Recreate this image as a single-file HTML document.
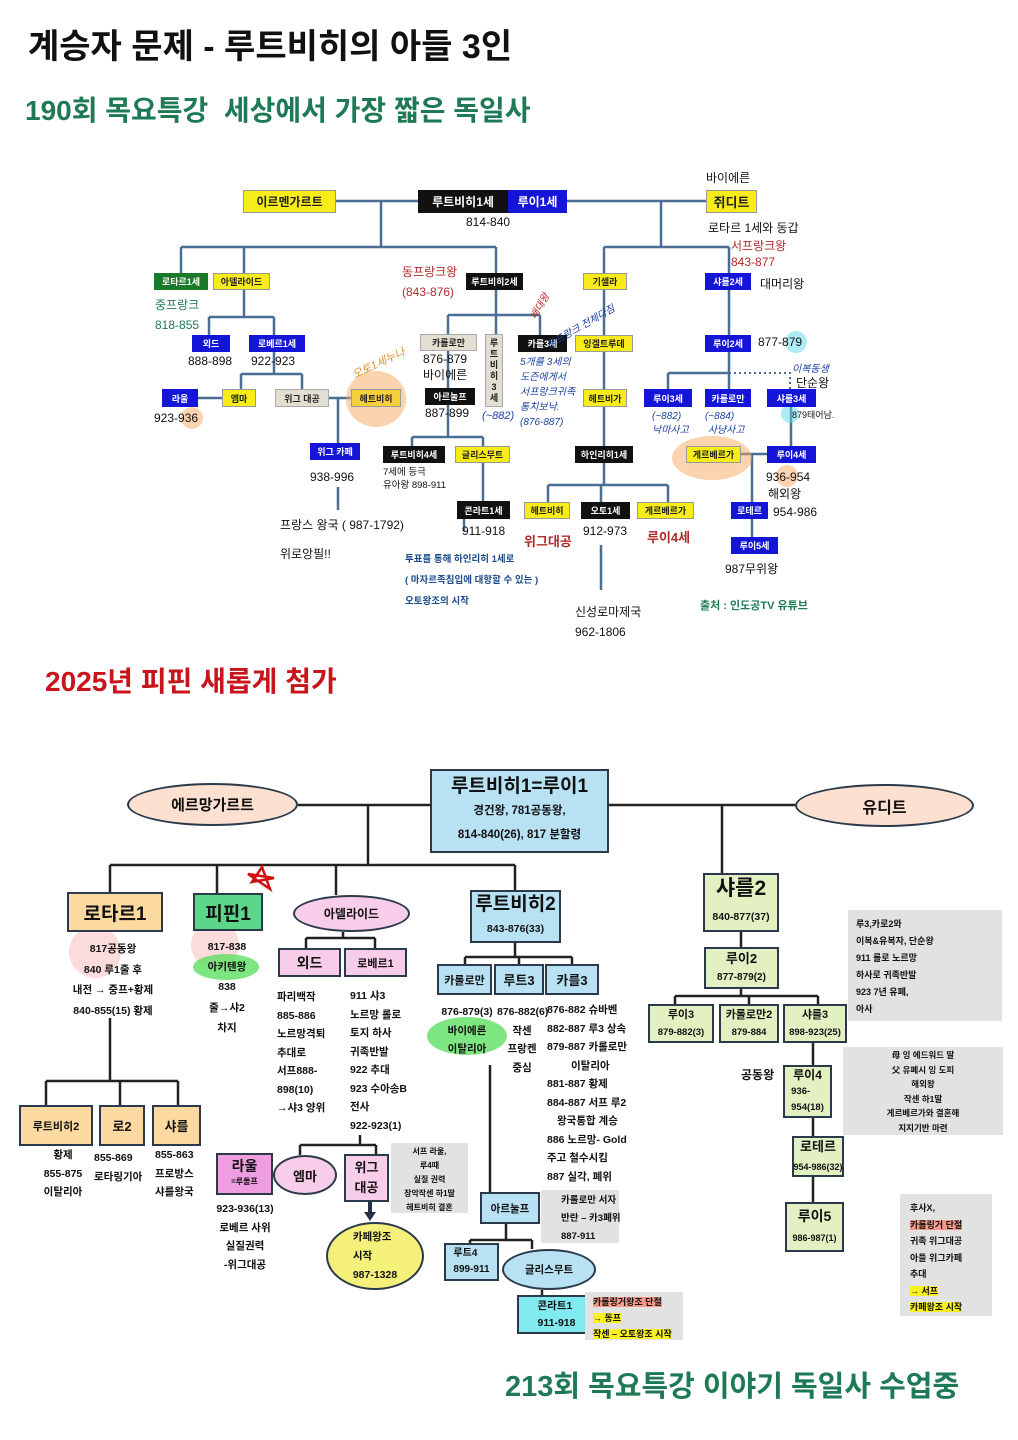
<!DOCTYPE html>
<html><head><meta charset="utf-8"><style>
*{margin:0;padding:0;box-sizing:border-box}
body{width:1018px;height:1440px;background:#fff;position:relative;overflow:hidden;font-family:"Liberation Sans","Noto Sans CJK KR",sans-serif;color:#111}
.a{position:absolute;white-space:nowrap}
.b{position:absolute;display:flex;align-items:center;justify-content:center;font-weight:bold;font-size:9px;white-space:nowrap}
.y{background:#f7ec1a;color:#222;border:1px solid #999}
.k{background:#111;color:#fff}
.u{background:#1515d8;color:#fff}
.g{background:#1a7a2a;color:#fff}
.e{background:#e2ded2;color:#222;border:1px solid #aaa}
.t{font-size:12px}
.r{color:#b02a2a}
.hw{position:absolute;color:#1a3fa0;font-style:italic;font-size:11px;white-space:nowrap}
.c{position:absolute;display:flex;flex-direction:column;align-items:center;justify-content:center;font-weight:bold;border:2px solid #2a3a4a;white-space:nowrap}
.n{position:absolute;font-size:10.5px;font-weight:bold;line-height:18.5px;white-space:nowrap}
.gr{position:absolute;background:#e2e2e2;font-size:9.5px;font-weight:bold;line-height:16px;white-space:nowrap}
</style></head><body>
<div class="a" style="left:28px;top:19px;font-size:34px;font-weight:bold">계승자 문제 - 루트비히의 아들 3인</div>
<div class="a" style="left:25px;top:89px;font-size:28px;font-weight:bold;color:#1e7a55">190회 목요특강&nbsp; 세상에서 가장 짧은 독일사</div>

<svg style="position:absolute;left:0;top:0" width="1018" height="1440">
<g stroke="#4a6e94" stroke-width="2.5" fill="none">
<path d="M336 201H418M567 201H706M381 201V247M181 247H496M181 247V273M244 247V273M496 247V273M661 201V247M604 247H729M604 247V273M729 247V273"/>
<path d="M244 290V317M209 317H274M209 317V335M274 317V374M241 374H302M241 374V389M302 374V389M198 398H222M329 398H351M338 398V443M338 487V510"/>
<path d="M496 290V334M448 315H540M448 315V334M540 315V335M448 351V388M448 405V437M412 437H483M412 437V446M483 437V446M483 463V501M464 519V531"/>
<path d="M604 290V446M604 463V485M548 485H668M548 485V502M601 485V502M668 485V502M601 545V590"/>
<path d="M729 290V335M729 352V389M668 373H729V373M668 373V389M741 454H767M752 454V502M752 519V537M791 407V446"/>
</g>
<path d="M729 373H790V389" stroke="#4a6e94" stroke-width="2" stroke-dasharray="2,3" fill="none"/>
<ellipse cx="376" cy="399" rx="30" ry="28" fill="#f6a860" opacity=".5"/>
<ellipse cx="712" cy="458" rx="40" ry="22" fill="#f6a860" opacity=".5"/>
<circle cx="192" cy="418" r="11" fill="#f6a860" opacity=".5"/>
<circle cx="787" cy="476" r="11" fill="#f6a860" opacity=".5"/>
<circle cx="796" cy="342" r="11" fill="#60d8e8" opacity=".5"/>
<circle cx="790" cy="414" r="9" fill="#60d8e8" opacity=".5"/>

<g stroke="#222" stroke-width="2.5" fill="none">
<path d="M298 805H430M609 805H795M368 805V865M110 865H515M110 865V892M217 865V893M336 865V895M515 865V890M722 805V873"/>
<path d="M343 932V938M306 938H375M306 938V948M375 938V948M360 1135V1145M300 1145H376M300 1145V1155M376 1145V1154"/>
<path d="M110 1018V1081M46 1081H178M46 1081V1105M120 1081V1105M178 1081V1105"/>
<path d="M515 943V957M465 957H572M465 957V964M519 957V964M572 957V964M490 1065V1192M506 1224V1240M470 1240H532M470 1240V1243M532 1240V1249M542 1290V1295"/>
<path d="M741 932V947M741 989V996M675 996H818M675 996V1004M749 996V1004M818 996V1004M813 1043V1065M813 1118V1136M813 1177V1202"/>
</g>
<path d="M370 1202V1214" stroke="#234" stroke-width="4"/><path d="M364 1212L370 1221L376 1212Z" fill="#234"/>
<circle cx="95" cy="952" r="26" fill="#f7b8b8" opacity=".5"/>
<circle cx="215" cy="945" r="24" fill="#f7b8b8" opacity=".5"/>
<ellipse cx="226" cy="967" rx="33" ry="13" fill="#5ee060" opacity=".8"/>
<ellipse cx="467" cy="1036" rx="40" ry="19" fill="#5ee060" opacity=".8"/>
<path d="M252 882L262 867L270 889L248 874L274 878Z" stroke="#d01010" stroke-width="2.5" fill="none"/>
</svg>

<!-- top boxes -->
<div class="b y t" style="left:243px;top:190px;width:93px;height:23px">이르멘가르트</div>
<div class="b k t" style="left:418px;top:190px;width:90px;height:23px">루트비히1세</div>
<div class="b u t" style="left:508px;top:190px;width:59px;height:23px">루이1세</div>
<div class="a" style="left:466px;top:215px;font-size:12px">814-840</div>
<div class="a" style="left:706px;top:169px;font-size:12px">바이에른</div>
<div class="b y t" style="left:706px;top:190px;width:51px;height:23px;font-size:13px">쥐디트</div>
<div class="a" style="left:708px;top:219px;font-size:12px">로타르 1세와 동갑</div>
<div class="a r" style="left:731px;top:237px;font-size:12px">서프랑크왕</div>
<div class="a r" style="left:731px;top:255px;font-size:12px">843-877</div>
<div class="b g" style="left:154px;top:273px;width:54px;height:17px">로타르1세</div>
<div class="b y" style="left:213px;top:273px;width:57px;height:17px">아델라이드</div>
<div class="a" style="left:155px;top:296px;font-size:12px;color:#1e7a55">중프랑크</div>
<div class="a" style="left:155px;top:318px;font-size:12px;color:#1e7a55">818-855</div>
<div class="a r" style="left:402px;top:263px;font-size:12px">동프랑크왕</div>
<div class="a r" style="left:402px;top:285px;font-size:12px">(843-876)</div>
<div class="b k" style="left:466px;top:273px;width:57px;height:17px">루트비히2세</div>
<div class="b y" style="left:583px;top:273px;width:44px;height:17px">기셀라</div>
<div class="b u" style="left:705px;top:273px;width:46px;height:17px">샤를2세</div>
<div class="a" style="left:760px;top:275px;font-size:12px">대머리왕</div>
<div class="b u" style="left:192px;top:335px;width:38px;height:17px">외드</div>
<div class="b u" style="left:249px;top:335px;width:56px;height:17px">로베르1세</div>
<div class="a" style="left:188px;top:354px;font-size:12px">888-898</div>
<div class="a" style="left:251px;top:354px;font-size:12px">922-923</div>
<div class="b u" style="left:162px;top:389px;width:36px;height:18px">라울</div>
<div class="b y" style="left:222px;top:389px;width:34px;height:18px">엠마</div>
<div class="b e" style="left:275px;top:389px;width:54px;height:18px">위그 대공</div>
<div class="b y" style="left:351px;top:389px;width:50px;height:18px;background:#f5d03a">헤트비히</div>
<div class="a" style="left:154px;top:411px;font-size:12px">923-936</div>
<div class="hw" style="left:350px;top:355px;color:#e09030;transform:rotate(-25deg)">오토1세누나</div>
<div class="b u" style="left:310px;top:443px;width:50px;height:17px">위그 카페</div>
<div class="a" style="left:310px;top:470px;font-size:12px">938-996</div>
<div class="a" style="left:280px;top:516px;font-size:12px">프랑스 왕국 ( 987-1792)</div>
<div class="a" style="left:280px;top:545px;font-size:12px">위로앙필!!</div>
<div class="b e" style="left:420px;top:334px;width:57px;height:17px">카롤로만</div>
<div class="a" style="left:423px;top:351px;font-size:12px;line-height:16px">876-879<br>바이에른</div>
<div class="b e" style="left:485px;top:334px;width:18px;height:73px;white-space:normal;width:18px;line-height:11px;text-align:center">루<br>트<br>비<br>히<br>3<br>세</div>
<div class="b k" style="left:425px;top:388px;width:50px;height:17px">아르눌프</div>
<div class="a" style="left:425px;top:406px;font-size:12px">887-899</div>
<div class="hw" style="left:482px;top:410px">(~882)</div>
<div class="b k" style="left:518px;top:335px;width:49px;height:17px">카를3세</div>
<div class="hw" style="left:520px;top:355px;font-size:10px;line-height:15px">5개를 3세의<br>도즌에게서<br>서프랑크귀족<br>통치보낙.<br>(876-887)</div>
<div class="hw" style="left:525px;top:298px;color:#c02020;transform:rotate(-60deg);font-size:10px">배대왕</div>
<div class="hw" style="left:542px;top:318px;font-size:10px;transform:rotate(-30deg)">동프랑크 전체다짐</div>
<div class="b k" style="left:383px;top:446px;width:62px;height:17px">루트비히4세</div>
<div class="b y" style="left:455px;top:446px;width:55px;height:17px">글리스무트</div>
<div class="a" style="left:383px;top:466px;font-size:9.5px;line-height:13px">7세에 등극<br>유아왕 898-911</div>
<div class="b k" style="left:457px;top:501px;width:53px;height:18px">콘라트1세</div>
<div class="a" style="left:462px;top:524px;font-size:12px">911-918</div>
<div class="a" style="left:405px;top:551px;font-size:9.5px;color:#1a4a8a;font-weight:bold">투표를 통해 하인리히 1세로</div>
<div class="a" style="left:405px;top:572px;font-size:9.5px;color:#1a4a8a;font-weight:bold">( 마자르족침입에 대항할 수 있는 )</div>
<div class="a" style="left:405px;top:593px;font-size:9.5px;color:#1a4a8a;font-weight:bold">오토왕조의 시작</div>
<div class="b y" style="left:575px;top:335px;width:58px;height:17px">잉겔트루데</div>
<div class="b y" style="left:583px;top:389px;width:44px;height:18px">헤트비가</div>
<div class="b k" style="left:575px;top:446px;width:58px;height:17px">하인리히1세</div>
<div class="b y" style="left:524px;top:502px;width:46px;height:17px">헤트비히</div>
<div class="b k" style="left:581px;top:502px;width:49px;height:17px">오토1세</div>
<div class="b y" style="left:637px;top:502px;width:57px;height:17px">게르베르가</div>
<div class="a r" style="left:524px;top:531px;font-size:13px;font-weight:bold">위그대공</div>
<div class="a" style="left:583px;top:524px;font-size:12px">912-973</div>
<div class="a r" style="left:647px;top:527px;font-size:13px;font-weight:bold">루이4세</div>
<div class="a" style="left:575px;top:603px;font-size:12px">신성로마제국</div>
<div class="a" style="left:575px;top:625px;font-size:12px">962-1806</div>
<div class="b u" style="left:705px;top:335px;width:46px;height:17px">루이2세</div>
<div class="a" style="left:758px;top:335px;font-size:12px">877-879</div>
<div class="b u" style="left:644px;top:389px;width:48px;height:18px">루이3세</div>
<div class="b u" style="left:705px;top:389px;width:46px;height:18px">카롤로만</div>
<div class="b u" style="left:767px;top:389px;width:49px;height:18px">샤를3세</div>
<div class="hw" style="left:792px;top:360px;font-size:10px">이복동생</div>
<div class="a" style="left:796px;top:374px;font-size:12px">단순왕</div>
<div class="a" style="left:792px;top:408px;font-size:9px">879태어남.</div>
<div class="hw" style="left:652px;top:410px;font-size:10px;line-height:14px">(~882)<br>낙마사고</div>
<div class="hw" style="left:705px;top:410px;font-size:10px;line-height:14px">(~884)<br>&nbsp;사냥사고</div>
<div class="b y" style="left:686px;top:446px;width:55px;height:17px">게르베르가</div>
<div class="b u" style="left:767px;top:446px;width:49px;height:17px">루이4세</div>
<div class="a" style="left:766px;top:470px;font-size:12px">936-954</div>
<div class="a" style="left:768px;top:485px;font-size:12px">해외왕</div>
<div class="b u" style="left:731px;top:502px;width:37px;height:17px">로테르</div>
<div class="a" style="left:773px;top:505px;font-size:12px">954-986</div>
<div class="b u" style="left:731px;top:537px;width:47px;height:17px">루이5세</div>
<div class="a" style="left:725px;top:560px;font-size:12px">987무위왕</div>
<div class="a" style="left:700px;top:597px;font-size:11px;color:#1e7a55;font-weight:bold">출처 : 인도공TV 유튜브</div>

<div class="a" style="left:45px;top:660px;font-size:28px;font-weight:bold;color:#c8141c">2025년 피핀 새롭게 첨가</div>

<!-- bottom -->
<div class="c" style="left:127px;top:783px;width:171px;height:43px;border-radius:50%;background:#fde0cf;font-size:15px">에르망가르트</div>
<div class="c" style="left:795px;top:784px;width:179px;height:43px;border-radius:50%;background:#fde0cf;font-size:16px">유디트</div>
<div class="c" style="left:430px;top:769px;width:179px;height:84px;background:#b8e2f4;line-height:24px"><div style="font-size:19px">루트비히1=루이1</div><div style="font-size:11.5px">경건왕, 781공동왕,</div><div style="font-size:11.5px">814-840(26), 817 분할령</div></div>
<div class="c" style="left:67px;top:892px;width:96px;height:40px;background:#fcd9a0;font-size:19px">로타르1</div>
<div class="c" style="left:193px;top:893px;width:70px;height:38px;background:#5cd688;font-size:19px">피핀1</div>
<div class="c" style="left:293px;top:895px;width:117px;height:37px;border-radius:50%;background:#f8cde9;font-size:12px">아델라이드</div>
<div class="n" style="left:63px;top:939px;width:100px;text-align:center;line-height:20.5px">817공동왕<br>840 루1줄 후<br>내전 → 중프+황제<br>840-855(15) 황제</div>
<div class="n" style="left:187px;top:937px;width:80px;text-align:center;line-height:20.2px">817-838<br>아키텐왕<br>838<br>줄→샤2<br>차지</div>
<div class="c" style="left:278px;top:948px;width:63px;height:29px;background:#f8cde9;font-size:14px">외드</div>
<div class="c" style="left:344px;top:948px;width:63px;height:29px;background:#f8cde9;font-size:11px">로베르1</div>
<div class="n" style="left:277px;top:988px">파리백작<br>885-886<br>노르망격퇴<br>추대로<br>서프888-<br>898(10)<br>→샤3 양위</div>
<div class="n" style="left:350px;top:987px">911 샤3<br>노르망 롤로<br>토지 하사<br>귀족반발<br>922 추대<br>923 수아송B<br>전사<br>922-923(1)</div>
<div class="c" style="left:216px;top:1153px;width:57px;height:42px;background:#ee9ee0;font-size:14px;line-height:16px">라울<div style="font-size:8px">=루돌프</div></div>
<div class="c" style="left:273px;top:1155px;width:64px;height:40px;border-radius:50%;background:#f8cde9;font-size:13px">엠마</div>
<div class="c" style="left:344px;top:1154px;width:45px;height:48px;background:#f8cde9;font-size:13px;line-height:20px">위그<br>대공</div>
<div class="gr" style="left:391px;top:1143px;width:77px;height:70px;text-align:center;font-size:8px;line-height:14px;padding-top:2px">서프 라울,<br>루4때<br>실질 권력<br>장악작센 하1딸<br>헤트비히 결혼</div>
<div class="n" style="left:200px;top:1200px;width:90px;text-align:center">923-936(13)<br>로베르 사위<br>실질권력<br>-위그대공</div>
<div class="c" style="left:326px;top:1222px;width:98px;height:68px;border-radius:50%;background:#f5f07a;font-size:10.5px;line-height:19px">카페왕조<br>시작<br>987-1328</div>
<div class="c" style="left:19px;top:1105px;width:74px;height:41px;background:#fcd9a0;font-size:11px">루트비히2</div>
<div class="c" style="left:99px;top:1105px;width:46px;height:41px;background:#fcd9a0;font-size:13px">로2</div>
<div class="c" style="left:152px;top:1105px;width:49px;height:41px;background:#fcd9a0;font-size:13px">샤를</div>
<div class="n" style="left:33px;top:1146px;width:60px;text-align:center">황제<br>855-875<br>이탈리아</div>
<div class="n" style="left:94px;top:1149px">855-869<br>로타링기아</div>
<div class="n" style="left:155px;top:1146px">855-863<br>프로방스<br>샤를왕국</div>
<div class="c" style="left:470px;top:890px;width:91px;height:53px;background:#b8e2f4;font-size:19px;line-height:24px">루트비히2<div style="font-size:10.5px">843-876(33)</div></div>
<div class="c" style="left:437px;top:964px;width:55px;height:31px;background:#b8e2f4;font-size:11px">카롤로만</div>
<div class="c" style="left:494px;top:964px;width:50px;height:31px;background:#b8e2f4;font-size:13px">루트3</div>
<div class="c" style="left:545px;top:964px;width:54px;height:31px;background:#b8e2f4;font-size:13px">카를3</div>
<div class="n" style="left:438px;top:1003px;width:58px;text-align:center">876-879(3)<br>바이에른<br>이탈리아</div>
<div class="n" style="left:497px;top:1003px;width:50px;text-align:center">876-882(6)<br>작센<br>프랑켄<br>중심</div>
<div class="n" style="left:547px;top:1001px">876-882 슈바벤<br>882-887 루3 상속<br>879-887 카롤로만<br><span style="padding-left:24px">이탈리아</span><br>881-887 황제<br>884-887 서프 루2<br><span style="padding-left:10px">왕국통합 계승</span><br>886 노르망- Gold<br>주고 철수시킴<br>887 실각, 폐위</div>
<div class="c" style="left:480px;top:1192px;width:60px;height:32px;background:#b8e2f4;font-size:10.5px">아르눌프</div>
<div class="gr" style="left:541px;top:1190px;width:73px;height:53px;padding:2px 0 0 20px;line-height:18px;font-size:9.5px;width:78px">카롤로만 서자<br>반란 – 카3폐위<br>887-911</div>
<div class="c" style="left:444px;top:1243px;width:55px;height:38px;background:#b8e2f4;font-size:10px;line-height:16px">루트4<br>899-911</div>
<div class="c" style="left:502px;top:1249px;width:94px;height:41px;border-radius:50%;background:#b8e2f4;font-size:10.5px">글리스무트</div>
<div class="c" style="left:517px;top:1295px;width:79px;height:39px;background:#80eaf0;font-size:10.5px;line-height:17px">콘라트1<br>911-918</div>
<div class="gr" style="left:585px;top:1292px;width:98px;height:48px;padding:2px 0 0 8px;font-size:9px;line-height:16px"><span style="background:#f49a88">카롤링거왕조 단절</span><br><span style="background:#f8f020">→ 동프</span><br><span style="background:#f8f020">작센 – 오토왕조 시작</span></div>
<div class="c" style="left:703px;top:873px;width:76px;height:59px;background:#e2f0c2;font-size:21px;line-height:28px">샤를2<div style="font-size:10.5px">840-877(37)</div></div>
<div class="c" style="left:704px;top:947px;width:75px;height:42px;background:#e2f0c2;font-size:13px;line-height:19px">루이2<div style="font-size:10px">877-879(2)</div></div>
<div class="c" style="left:648px;top:1004px;width:66px;height:39px;background:#e2f0c2;font-size:11px;line-height:18px">루이3<div style="font-size:9.5px">879-882(3)</div></div>
<div class="c" style="left:719px;top:1004px;width:60px;height:39px;background:#e2f0c2;font-size:11px;line-height:18px">카롤로만2<div style="font-size:9.5px">879-884</div></div>
<div class="c" style="left:783px;top:1004px;width:64px;height:39px;background:#e2f0c2;font-size:11px;line-height:18px;border-width:2.5px">샤를3<div style="font-size:9.5px">898-923(25)</div></div>
<div class="a" style="left:741px;top:1066px;font-size:12px;font-weight:bold">공동왕</div>
<div class="c" style="left:783px;top:1065px;width:49px;height:53px;background:#e2f0c2;font-size:12px;line-height:17px">루이4<div style="font-size:9.5px;line-height:16px">936-<br>954(18)</div></div>
<div class="c" style="left:792px;top:1136px;width:52px;height:41px;background:#e2f0c2;font-size:13px;line-height:20px">로테르<div style="font-size:9px">954-986(32)</div></div>
<div class="c" style="left:785px;top:1202px;width:59px;height:50px;background:#e2f0c2;font-size:14px;line-height:22px">루이5<div style="font-size:9px">986-987(1)</div></div>
<div class="gr" style="left:848px;top:910px;width:154px;height:111px;padding:6px 0 0 8px;line-height:17px;font-size:9px">루3,카로2와<br>이복&amp;유복자, 단순왕<br>911 롤로 노르망<br>하사로 귀족반발<br>923 7년 유폐,<br>아사</div>
<div class="gr" style="left:843px;top:1047px;width:160px;height:88px;text-align:center;font-size:8.5px;line-height:14.5px;padding-top:1px">母 잉 에드워드 딸<br>父 유폐시 잉 도피<br>해외왕<br>작센 하1딸<br>게르베르가와 결혼해<br>지지기반 마련</div>
<div class="gr" style="left:900px;top:1194px;width:92px;height:122px;padding:6px 0 0 10px;font-size:9px;line-height:16.5px">후사X,<br><span style="background:#f49a88">카롤링거 단절</span><br>귀족 위그대공<br>아들 위그카페<br>추대<br><span style="background:#f8f020">→ 서프</span><br><span style="background:#f8f020">카페왕조 시작</span></div>

<div class="a" style="left:505px;top:1363px;font-size:29px;font-weight:bold;color:#1e7a55">213회 목요특강 이야기 독일사 수업중</div>
</body></html>
